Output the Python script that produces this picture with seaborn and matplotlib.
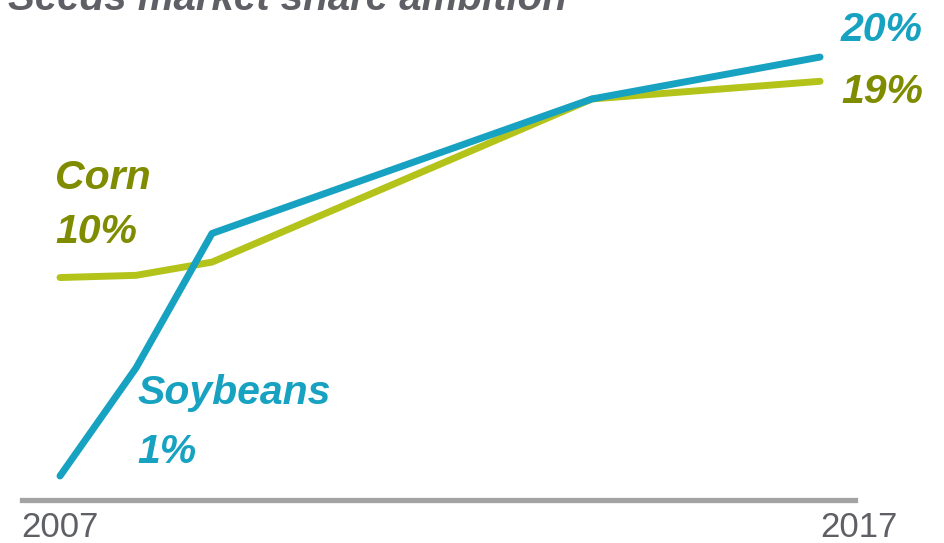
import matplotlib
matplotlib.use("Agg")
import matplotlib.pyplot as plt
import matplotlib.transforms as mtransforms
import seaborn as sns
import pandas as pd

years = [2007, 2008, 2009, 2014, 2017]
soybeans = [1.0, 5.9, 12.0, 18.1, 20.0]
corn = [10.0, 10.1, 10.7, 18.1, 18.9]
xtick_labels = ["2007", "2017"]
xticks = [2007, 2017]

TEAL = "#16a2c0"
TEAL_TXT = "#16a2c0"
OLIVE = "#b4c31a"
OLIVE_TXT = "#7f8c00"
GRAY_TXT = "#5f6065"

sns.set_style("white")
plt.rcParams['font.family'] = ['Liberation Sans', 'DejaVu Sans']

df = pd.DataFrame({
    "year": years * 2,
    "share": soybeans + corn,
    "crop": ["Soybeans"] * len(years) + ["Corn"] * len(years),
})

W, H = 944, 543
fig = plt.figure(figsize=(W / 100, H / 100), dpi=100)
ax = fig.add_axes([22 / W, 43 / H, 833 / W, 500 / H])

sns.lineplot(data=df, x="year", y="share", hue="crop",
             palette={"Soybeans": TEAL, "Corn": OLIVE},
             hue_order=["Corn", "Soybeans"],
             linewidth=5.0, legend=False, ax=ax,
             solid_capstyle="round", solid_joinstyle="round")

ax.set_xlim(2006.5, 2017.46)
ax.set_ylim(1 - 24 / 22.05, 1 + 476 / 22.05)
for s in ["top", "right", "left"]:
    ax.spines[s].set_visible(False)
ax.spines["bottom"].set_color("#a3a3a3")
ax.spines["bottom"].set_linewidth(3.8)
ax.set_yticks([])
ax.set_xticks(xticks)
labels = ax.set_xticklabels(xtick_labels, fontsize=25, color=GRAY_TXT)
labels[1].set_ha("left")
labels[1].set_transform(labels[1].get_transform() +
                        mtransforms.ScaledTranslation(-7 / 100, 0, fig.dpi_scale_trans))
ax.tick_params(axis="x", length=0, pad=8)
ax.set_xlabel("")
ax.set_ylabel("")
ax.patch.set_alpha(0)

def ftext(x, y, s, color, size=29.5):
    fig.text(x / W, 1 - y / H, s, color=color, fontsize=size,
             fontweight="bold", fontstyle="italic", va="baseline", ha="left")

ftext(8, 10, "Seeds market share ambition", GRAY_TXT, 29)
ftext(55, 189, "Corn", OLIVE_TXT)
ftext(55, 243, "10%", OLIVE_TXT)
ftext(137, 404, "Soybeans", TEAL_TXT)
ftext(137, 463, "1%", TEAL_TXT)
ftext(841, 41, "20%", TEAL_TXT)
ftext(841, 103, "19%", OLIVE_TXT)

fig.savefig("out.png", dpi=100)
